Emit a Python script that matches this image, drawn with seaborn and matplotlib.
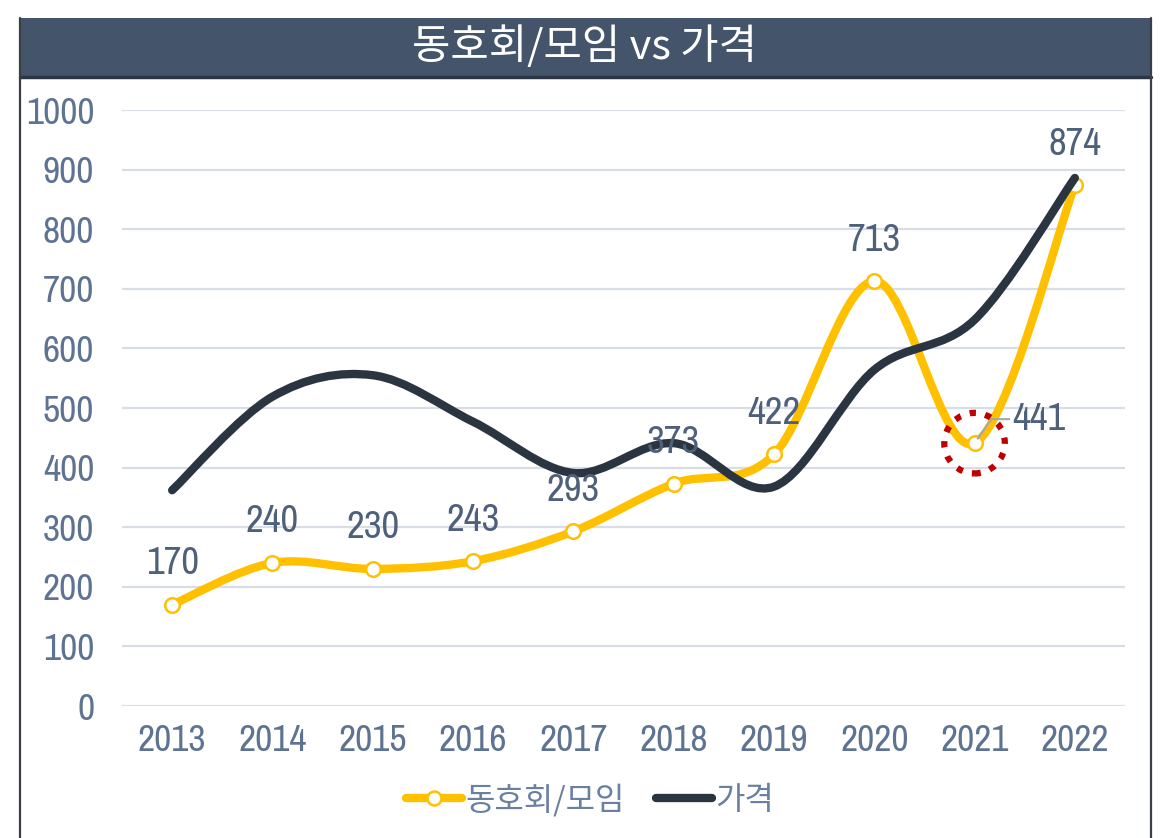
import numpy as np
import seaborn as sns
import matplotlib.pyplot as plt
from matplotlib import font_manager as fm
from matplotlib.path import Path
from matplotlib.patches import PathPatch, Rectangle
from matplotlib.lines import Line2D

# chart data
years = ["2013", "2014", "2015", "2016", "2017", "2018", "2019", "2020", "2021", "2022"]
members = [170, 240, 230, 243, 293, 373, 422, 713, 441, 874]
price = [362, 519, 555, 477, 391, 441, 368, 564, 648, 886]
y_ticks = [0, 100, 200, 300, 400, 500, 600, 700, 800, 900, 1000]

title = "동호회/모임 vs 가격"
label_members = "동호회/모임"
label_price = "가격"

YELLOW = "#FFC000"
DARK = "#2B3541"
BAND = "#44546A"
TICK = "#5E7391"
LABEL = "#4E607A"

sns.set_theme(style="white")
kr_font = ["Noto Sans CJK KR", "DejaVu Sans"]
plt.rcParams["font.family"] = kr_font

# narrowest regular font around, for the numbers
stretch_rank = {"ultra-condensed": 0, "extra-condensed": 1, "condensed": 2,
                "semi-condensed": 3}
narrow = []
for f in fm.fontManager.ttflist:
    if f.style != "normal" or f.weight not in (400, "normal", "regular"):
        continue
    st = f.stretch
    if isinstance(st, str) and st in stretch_rank:
        narrow.append((stretch_rank[st], f))
    elif "Narrow" in f.name or "Condensed" in f.name:
        narrow.append((2, f))
narrow.sort(key=lambda t: (t[0], t[1].name))
if narrow:
    NUM = dict(family=narrow[0][1].name, stretch=narrow[0][1].stretch)
else:
    NUM = dict(family="DejaVu Sans", stretch="normal")


def smooth_path(xs, ys):
    # Excel-like smoothed line: cubic bezier segments (catmull-rom control points)
    pts = np.column_stack([xs, ys]).astype(float)
    ext = np.vstack([pts[0], pts, pts[-1]])
    verts = [pts[0]]
    codes = [Path.MOVETO]
    for i in range(1, len(ext) - 2):
        p0, p1, p2, p3 = ext[i - 1], ext[i], ext[i + 1], ext[i + 2]
        verts += [p1 + (p2 - p0) / 6, p2 - (p3 - p1) / 6, p2]
        codes += [Path.CURVE4] * 3
    return Path(verts, codes)


fig = plt.figure(figsize=(11.63, 8.38), dpi=100)
ax = fig.add_axes([122 / 1163, 1 - 706 / 838, 1003 / 1163, 596 / 838])

x = np.arange(len(years))

# yellow series
ax.add_patch(PathPatch(smooth_path(x, members), fill=False, edgecolor=YELLOW,
                       lw=6, capstyle="round", joinstyle="round", zorder=3))
sns.scatterplot(x=x, y=members, ax=ax, marker="o", s=110, color="white",
                edgecolor=YELLOW, linewidth=1.8, zorder=4, clip_on=False)

# dark series
ax.add_patch(PathPatch(smooth_path(x, price), fill=False, edgecolor=DARK,
                       lw=6, capstyle="round", joinstyle="round", zorder=5))

# data labels
for i, v in enumerate(members):
    if i == 8:
        ax.annotate(str(v), xy=(i, v), xytext=(38, 24), textcoords="offset pixels",
                    ha="left", va="center", fontsize=28, color=LABEL, **NUM,
                    zorder=7,
                    arrowprops=dict(arrowstyle="-", color="#A6A6A6", lw=1.5,
                                    shrinkA=0, shrinkB=4, relpos=(0, 0.5),
                                    connectionstyle="angle,angleA=0,angleB=55,rad=0"))
    else:
        ax.annotate(str(v), xy=(i, v), xytext=(0, 41), textcoords="offset pixels",
                    ha="center", va="center", fontsize=28, color=LABEL,
                    zorder=7, **NUM)

# red dotted highlight around 2021
ax.scatter([8], [members[8]], s=1900, facecolors="none", edgecolors="#C00000",
           linewidths=4.5, linestyle=(0, (1, 1.5)), zorder=6, clip_on=False)

ax.set_xlim(-0.5, len(years) - 0.5)
ax.set_ylim(0, 1000)
ax.set_xticks(x)
ax.set_xticklabels(years)
ax.set_yticks(y_ticks)
ax.set_yticklabels([str(t) for t in y_ticks])
for lab in ax.get_xticklabels() + ax.get_yticklabels():
    lab.set_family(NUM["family"])
    lab.set_stretch(NUM["stretch"])
    lab.set_fontsize(27)
    lab.set_color(TICK)
ax.tick_params(axis="both", length=0)
ax.tick_params(axis="y", pad=20)
ax.tick_params(axis="x", pad=13)
ax.grid(axis="y", color="#D9DDE5", lw=1.6)
ax.set_axisbelow(True)
sns.despine(ax=ax, left=True, bottom=True)
ax.set_xlabel("")
ax.set_ylabel("")

# title band and frame
fig.add_artist(Rectangle((20 / 1163, 1 - 78 / 838), 1131 / 1163, 60 / 838,
                         transform=fig.transFigure, facecolor=BAND, edgecolor="none"))
fig.add_artist(Line2D([20 / 1163, 1151 / 1163], [1 - 77 / 838] * 2,
                      transform=fig.transFigure, color=DARK, lw=2.5))
for fx in (20 / 1163, 1151 / 1163):
    fig.add_artist(Line2D([fx, fx], [0, 1 - 18 / 838], transform=fig.transFigure,
                          color="#3A3F47", lw=1.6))
fig.text(585 / 1163, 1 - 47 / 838, title, ha="center", va="center", color="white",
         fontsize=30, family=kr_font)

# legend
handles = [
    Line2D([], [], color=YELLOW, lw=6, marker="o", markersize=10,
           markerfacecolor="white", markeredgecolor=YELLOW, markeredgewidth=1.8,
           solid_capstyle="round"),
    Line2D([], [], color=DARK, lw=6, solid_capstyle="round"),
]
leg = fig.legend(handles, [label_members, label_price], loc="center",
                 bbox_to_anchor=(590 / 1163, 1 - 800 / 838), ncol=2, frameon=False,
                 fontsize=23, handlelength=1.75, handletextpad=0.1, columnspacing=1.0)
for t in leg.get_texts():
    t.set_color("#6A80A0")

fig.savefig("out.png", dpi=100, facecolor="white")
